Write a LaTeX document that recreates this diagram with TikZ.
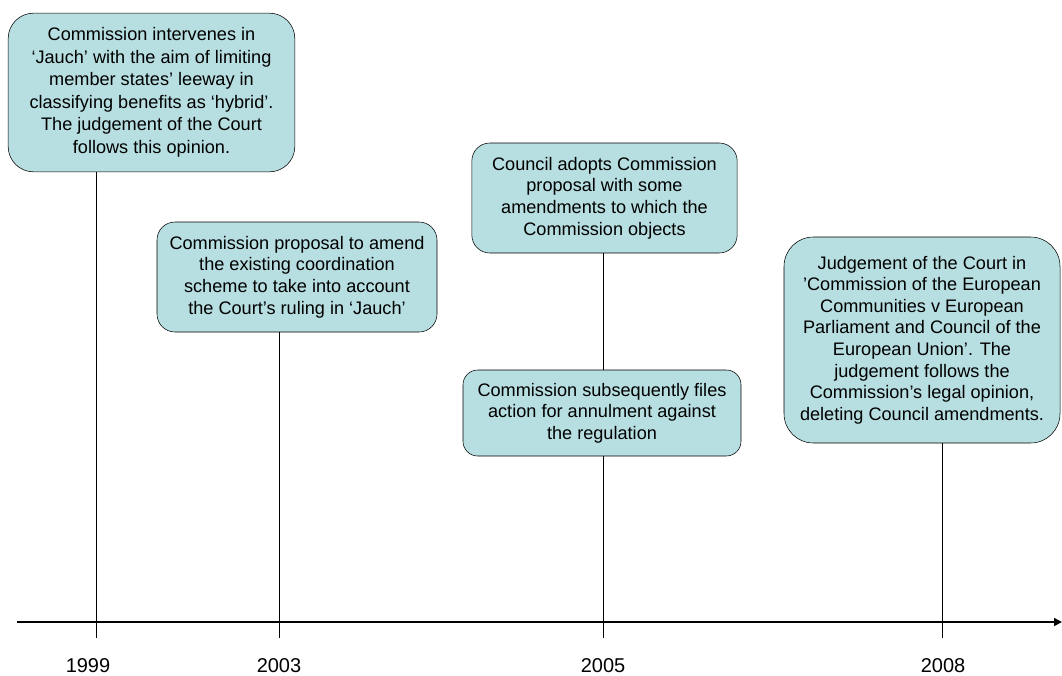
\documentclass[tikz,border=0pt]{standalone}
\usepackage{fontspec}
\setmainfont{Liberation Sans}
\usepackage{tikz}
\usetikzlibrary{positioning,arrows.meta}
\definecolor{eventfill}{RGB}{183,222,224}
\tikzstyle{event}=[draw=black, fill=eventfill, align=center, inner sep=0pt, font=\fontsize{13.6}{16.2}\selectfont]
\tikzstyle{year_label}=[inner sep=0pt, font=\fontsize{15}{18}\selectfont]
\tikzstyle{time_edge}=[-, draw=black, line width=0.6pt]

\begin{document}
\begin{tikzpicture}[x=0.75pt, y=-0.75pt]
        \useasboundingbox (0, 0) rectangle (1062, 675);
        \node [event, minimum width=215pt, minimum height=119pt, rounded corners=19pt, font=\fontsize{13.6}{16.9}\selectfont] (0) at (151.5, 92.5) {Commission intervenes in\\‘Jauch’ with the aim of limiting\\member states’ leeway in\\classifying benefits as ‘hybrid’.\\The judgement of the Court\\follows this opinion.};
        \node [event, minimum width=210pt, minimum height=82.5pt, rounded corners=13.5pt] (1) at (297, 277) {Commission proposal to amend\\the existing coordination\\scheme to take into account\\the Court’s ruling in ‘Jauch’};
        \node [event, minimum width=199pt, minimum height=82.5pt, rounded corners=13.5pt] (2) at (604.5, 198) {Council adopts Commission\\proposal with some\\amendments to which the\\Commission objects};
        \node [event, minimum width=208.5pt, minimum height=64.5pt, rounded corners=11pt] (3) at (602, 413) {Commission subsequently files\\action for annulment against\\the regulation};
        \node [event, minimum width=207pt, minimum height=154.5pt, rounded corners=22pt] (4) at (922, 340) {Judgement of the Court in\\’Commission of the European\\Communities v European\\Parliament and Council of the\\European Union’. The\\judgement follows the\\Commission’s legal opinion,\\deleting Council amendments.};
        \coordinate (5) at (96, 638);
        \coordinate (6) at (279, 638);
        \coordinate (7) at (603, 638);
        \coordinate (8) at (942, 638);
        \coordinate (9) at (17, 622);
        \coordinate (10) at (1062, 622);
        \node [year_label] (11) at (88, 666) {1999};
        \node [year_label] (12) at (279, 666) {2003};
        \node [year_label] (13) at (603, 666) {2005};
        \node [year_label] (14) at (943, 666) {2008};
        \draw[style={time_edge}]{} (0.south -| 5) to (5);
        \draw[style={time_edge}]{} (1.south -| 6) to (6);
        \draw[style={time_edge}]{} (2.south -| 7) to (3.north -| 7);
        \draw[style={time_edge}]{} (3.south -| 7) to (7);
        \draw[style={time_edge}]{} (4.south -| 8) to (8);
        \draw[line width=1.1pt, -{Triangle[length=6pt, width=6pt]}] (9) to (10);
    \end{tikzpicture}
\end{document}
